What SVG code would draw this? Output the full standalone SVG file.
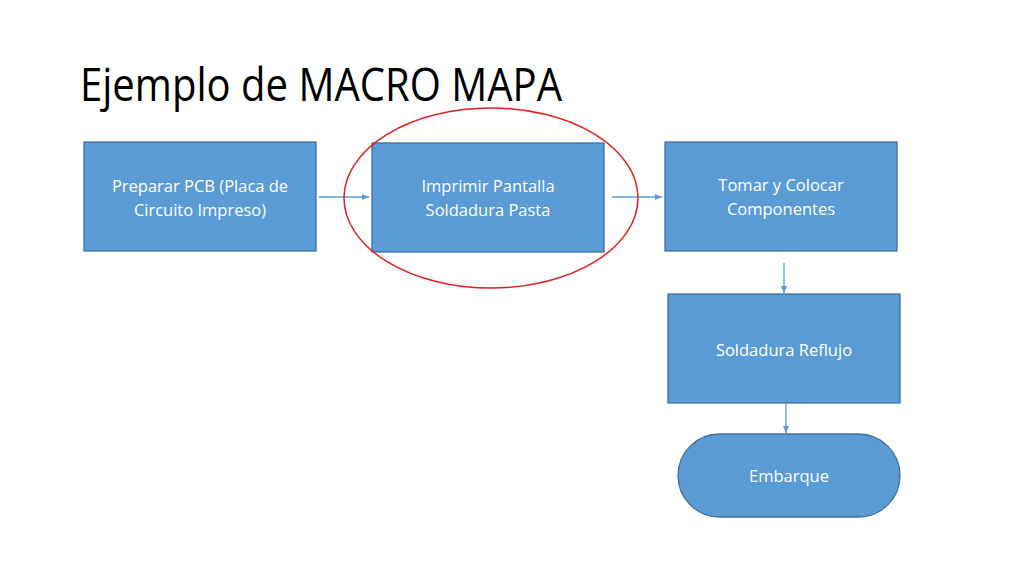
<svg xmlns="http://www.w3.org/2000/svg" width="1024" height="576" viewBox="0 0 1024 576">
<style>
.box{fill:#5B9BD5;stroke:#41719C;stroke-width:1.3}
.lbl{font-family:"Open Sans","Liberation Sans",sans-serif;font-size:16.5px;fill:#FFFFFF;text-anchor:middle}
.con{stroke:#5B9BD5;stroke-width:1.3;fill:none;marker-end:url(#ah)}
.title{font-family:"Open Sans","Liberation Sans",sans-serif;font-size:46px;fill:#000000}
</style>
<defs>
<marker id="ah" markerWidth="8" markerHeight="8" refX="7" refY="4" orient="auto" markerUnits="userSpaceOnUse">
<path d="M0,1 L7,4 L0,7 Z" fill="#5B9BD5"/>
</marker>
</defs>
<rect width="1024" height="576" fill="#FFFFFF"/>
<text class="title" x="80" y="101" textLength="482" lengthAdjust="spacingAndGlyphs">Ejemplo de MACRO MAPA</text>
<g id="connectors">
<line class="con" x1="319" y1="197" x2="369" y2="197"/>
<line class="con" x1="612" y1="197" x2="662" y2="197"/>
<line class="con" x1="784" y1="263" x2="784" y2="293"/>
<line class="con" x1="786" y1="404" x2="786" y2="433"/>
</g>
<g id="n1">
<rect class="box" x="84" y="142" width="232" height="109"/>
<text class="lbl" x="200" y="192">Preparar PCB (Placa de</text>
<text class="lbl" x="200" y="216">Circuito Impreso)</text>
</g>
<g id="n2">
<rect class="box" x="372" y="143" width="232" height="109"/>
<text class="lbl" x="488" y="192">Imprimir Pantalla</text>
<text class="lbl" x="488" y="216">Soldadura Pasta</text>
</g>
<g id="n3">
<rect class="box" x="665" y="142" width="232" height="109"/>
<text class="lbl" x="781" y="191">Tomar y Colocar</text>
<text class="lbl" x="781" y="215">Componentes</text>
</g>
<g id="n4">
<rect class="box" x="668" y="294" width="232" height="109"/>
<text class="lbl" x="784" y="356">Soldadura Reflujo</text>
</g>
<g id="n5">
<rect class="box" x="678" y="434" width="222" height="83" rx="41.5" ry="41.5"/>
<text class="lbl" x="789" y="482">Embarque</text>
</g>
<g id="highlight">
<ellipse cx="491" cy="198" rx="147" ry="90" fill="none" stroke="#E0201F" stroke-width="1.5"/>
</g>
</svg>
